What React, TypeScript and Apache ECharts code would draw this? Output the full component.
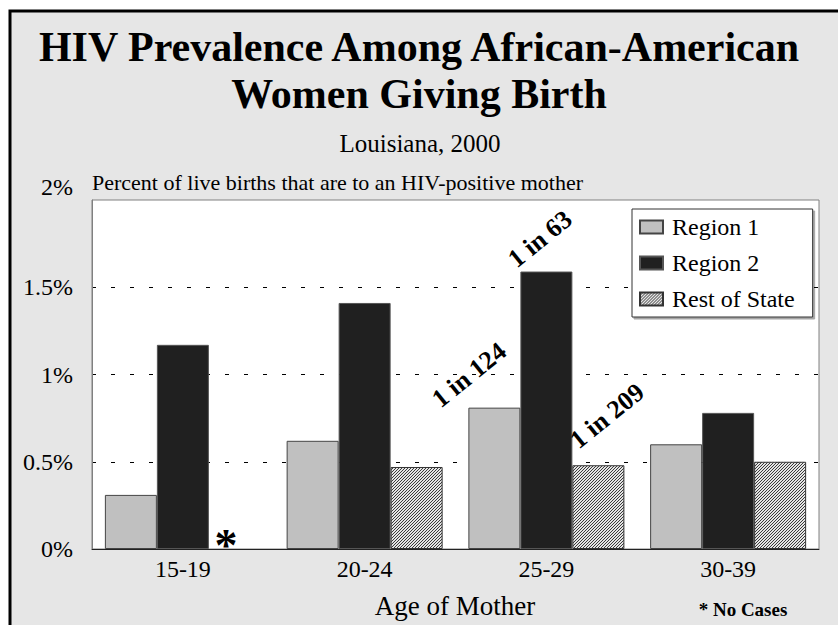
import React, { useEffect, useRef } from "react";
import * as echarts from "echarts";

const categories = ["15-19", "20-24", "25-29", "30-39"];
const region1 = [0.31, 0.62, 0.81, 0.6];
const region2 = [1.17, 1.41, 1.59, 0.78];
const restOfState: (number | null)[] = [null, 0.47, 0.48, 0.5];
const yTicks = [0, 0.5, 1, 1.5, 2];
const seriesNames = ["Region 1", "Region 2", "Rest of State"];
const annotations = [
  { text: "1 in 124", x: 469, y: 375 },
  { text: "1 in 63", x: 540, y: 239 },
  { text: "1 in 209", x: 607, y: 416 },
];

const SERIF = "Liberation Serif";

function makeHatch(): HTMLCanvasElement {
  const c = document.createElement("canvas");
  c.width = 3;
  c.height = 3;
  const ctx = c.getContext("2d")!;
  ctx.fillStyle = "#e4e4e4";
  ctx.fillRect(0, 0, 3, 3);
  ctx.fillStyle = "#3a3a3a";
  for (let i = 0; i < 3; i++) ctx.fillRect(i, 2 - i, 1, 1);
  return c;
}

export default function App() {
  const ref = useRef<HTMLDivElement>(null);
  useEffect(() => {
    if (!ref.current) return;
    const chart = echarts.init(ref.current, undefined, { renderer: "svg" });
    const hatch = { image: makeHatch(), repeat: "repeat" };
    const txt = (
      text: string,
      x: number,
      y: number,
      size: number,
      bold: boolean,
      align: string = "center"
    ) => ({
      type: "text",
      x,
      y,
      style: {
        text,
        fontFamily: SERIF,
        fontSize: size,
        fontWeight: bold ? "bold" : "normal",
        fill: "#000",
        align,
        verticalAlign: "middle",
      },
    });
    const labelStyle = { fontFamily: SERIF, fontSize: 24, color: "#000" };
    chart.setOption({
      animation: false,
      backgroundColor: "#ffffff",
      graphic: [
        {
          type: "rect",
          z: -10,
          silent: true,
          shape: { x: 10, y: 11, width: 860, height: 640 },
          style: { fill: "#e6e6e6", stroke: "#000", lineWidth: 3 },
        },
        txt("HIV Prevalence Among African-American", 419, 47, 42, true),
        txt("Women Giving Birth", 419, 94, 42, true),
        txt("Louisiana, 2000", 420, 143, 25, false),
        txt("Percent of live births that are to an HIV-positive mother", 92, 182, 22, false, "left"),
        txt("Age of Mother", 455, 606, 27, false),
        txt("* No Cases", 743, 609, 19, true),
        txt("*", 226, 545, 46, true),
        ...annotations.map((a) => ({
          ...txt(a.text, a.x, a.y, 26, true),
          rotation: (39 * Math.PI) / 180,
          z: 100,
        })),
      ],
      grid: {
        left: 92,
        top: 200,
        right: 19,
        bottom: 76,
        show: true,
        backgroundColor: "#ffffff",
        borderColor: "#808080",
        borderWidth: 1,
      },
      legend: {
        orient: "vertical",
        left: 632,
        top: 209,
        data: seriesNames,
        icon: "rect",
        itemWidth: 23,
        itemHeight: 13,
        itemGap: 12,
        padding: [6, 18, 6, 7],
        backgroundColor: "#ffffff",
        borderColor: "#333",
        borderWidth: 1,
        shadowColor: "rgba(0,0,0,0.35)",
        shadowOffsetX: 2,
        shadowOffsetY: 2,
        shadowBlur: 0,
        textStyle: {
          ...labelStyle,
          padding: [0, 0, 0, 4],
        },
      },
      xAxis: {
        type: "category",
        data: categories,
        axisLine: { lineStyle: { color: "#222", width: 1 } },
        axisTick: { show: false },
        axisLabel: { ...labelStyle, margin: 8 },
      },
      yAxis: {
        type: "value",
        min: 0,
        max: 2,
        interval: 0.5,
        axisLine: { show: true, lineStyle: { color: "#808080" } },
        axisTick: { show: false },
        axisLabel: {
          ...labelStyle,
          margin: 19,
          formatter: (v: number) =>
            !yTicks.includes(v) ? "" : v === 2 ? `{top|${v}%}` : `${v}%`,
          rich: {
            top: { ...labelStyle, padding: [0, 0, 26, 0] },
          },
        },
        splitLine: {
          show: true,
          showMinLine: false,
          showMaxLine: false,
          lineStyle: { color: "#000", type: [4, 15], width: 1 },
        },
      },
      series: [
        {
          name: seriesNames[0],
          type: "bar",
          data: region1,
          barWidth: 52,
          barGap: "0%",
          itemStyle: { color: "#c0c0c0", borderColor: "#444", borderWidth: 1 },
        },
        {
          name: seriesNames[1],
          type: "bar",
          data: region2,
          barWidth: 52,
          barGap: "0%",
          itemStyle: { color: "#202020", borderColor: "#555", borderWidth: 1 },
        },
        {
          name: seriesNames[2],
          type: "bar",
          data: restOfState,
          barWidth: 52,
          barGap: "0%",
          itemStyle: { color: hatch, borderColor: "#333", borderWidth: 1 },
        },
      ],
    });
    return () => chart.dispose();
  }, []);
  return (
    <div
      ref={ref}
      style={{ position: "absolute", left: 0, top: 0, width: 838, height: 625 }}
    />
  );
}
